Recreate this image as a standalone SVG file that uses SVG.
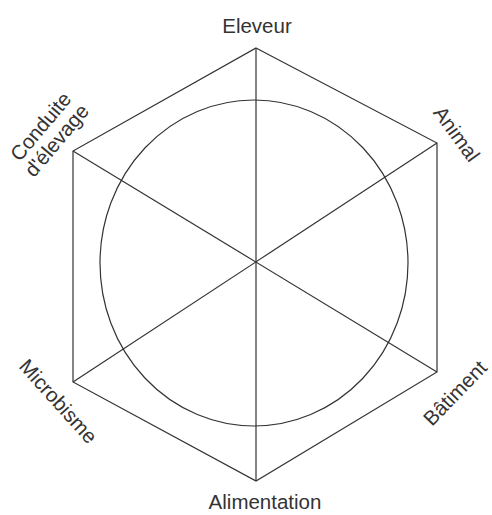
<svg xmlns="http://www.w3.org/2000/svg" width="492" height="515" viewBox="0 0 492 515">
<style>
.ln{fill:none;stroke:#333;stroke-width:1.2}
.lb{font-family:"Liberation Sans",Arial,sans-serif;font-size:20.5px;fill:#333;text-anchor:middle}
</style>
<rect width="492" height="515" fill="#fff"/>
<g id="connectors">
<polygon class="ln" points="256,48 437,143 437,372 256,481 73,382 73,151"/>
<line class="ln" x1="256" y1="48" x2="256" y2="481"/>
<line class="ln" x1="73" y1="151" x2="437" y2="372"/>
<line class="ln" x1="73" y1="382" x2="437" y2="143"/>
</g>
<g id="circle">
<ellipse class="ln" cx="254" cy="263" rx="154" ry="163"/>
</g>
<g id="eleveur"><text class="lb" x="257" y="33">Eleveur</text></g>
<g id="animal"><text class="lb" transform="translate(451,138) rotate(54)">Animal</text></g>
<g id="batiment"><text class="lb" transform="translate(460,398) rotate(-46)">Bâtiment</text></g>
<g id="alimentation"><text class="lb" x="265" y="509">Alimentation</text></g>
<g id="microbisme"><text class="lb" transform="translate(53,406) rotate(48)">Microbisme</text></g>
<g id="conduite"><text class="lb" transform="translate(46,131) rotate(-50)">Conduite</text><text class="lb" transform="translate(62,145) rotate(-50)">d'élevage</text></g>
</svg>
